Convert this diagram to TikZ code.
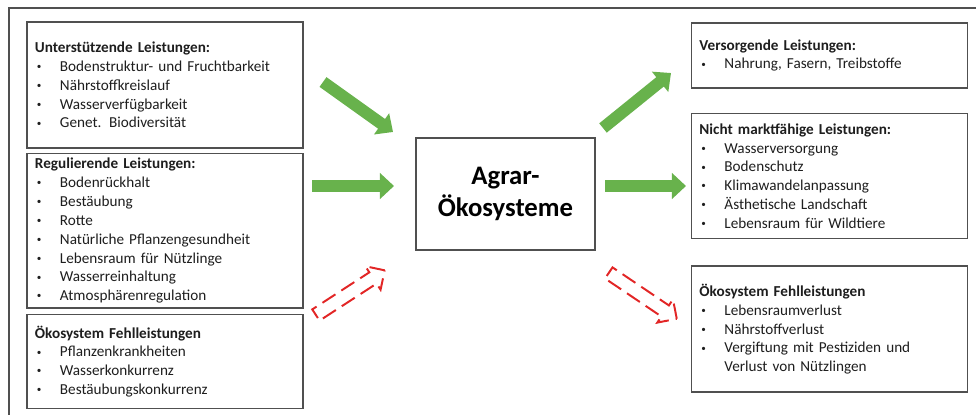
\documentclass[tikz,border=0pt]{standalone}
\usepackage{fontspec}
\usepackage{graphicx}
\setmainfont{Carlito}
\usetikzlibrary{arrows.meta,shapes.arrows,positioning}

\definecolor{pfeilgruen}{RGB}{104,178,76}
\definecolor{pfeilrot}{RGB}{226,38,38}
\definecolor{rahmen}{RGB}{80,80,80}
\definecolor{schrift}{RGB}{30,30,30}

% ein Listenpunkt
\newcommand{\pkt}[1]{\\\hspace*{0.05cm}\makebox[0.575cm][l]{\raisebox{0.25ex}{\scalebox{0.6}{\textbullet}}}#1}

\begin{document}
\begin{tikzpicture}[x=0.025cm,y=-0.025cm,
  leistung/.style={
  % The shape:
  rectangle,
  minimum width=6.9cm,
  text width=6.5cm,
  inner xsep=0.2cm,
  align=left,
  % The border:
  draw=rahmen,
  line width=1.1pt,
  fill=white,
  % Font
  text=schrift,
  font=\fontsize{10.8}{13.4}\selectfont
  },
  zentrum/.style={
  rectangle,
  minimum width=4.475cm,
  minimum height=2.8cm,
  align=center,
  draw=rahmen,
  line width=1.1pt,
  font=\fontsize{19}{23}\selectfont\bfseries
  },
  gpfeil/.style={
  % breiter gruener Pfeil
  draw=pfeilgruen,
  line width=8.5pt,
  -{Triangle[width=18pt,length=10pt]}
  },
  rpfeil/.style={
  % hohler gestrichelter Pfeil
  single arrow,
  draw=pfeilrot,
  line width=1.4pt,
  dash pattern=on 11pt off 5pt,
  minimum height=2.05cm,
  minimum width=0.7cm,
  inner xsep=0pt,
  inner ysep=0.14cm,
  single arrow head extend=0.18cm
  }]
  \useasboundingbox (0,0) rectangle (976,415);
  \draw[rahmen,line width=0.9pt] (9,415) |- (976,8);

  % links
  \node (unterst) [leistung,minimum height=3.15cm] at (165,85)
    {\textbf{Unterstützende Leistungen:}
     \pkt{Bodenstruktur- und Fruchtbarkeit}
     \pkt{Nährstoffkreislauf}
     \pkt{Wasserverfügbarkeit}
     \pkt{Genet. Biodiversität}};
  \node (regul) [leistung,minimum height=3.8cm,below=0.1cm of unterst]
    {\textbf{Regulierende Leistungen:}
     \pkt{Bodenrückhalt}
     \pkt{Bestäubung}
     \pkt{Rotte}
     \pkt{Natürliche Pflanzengesundheit}
     \pkt{Lebensraum für Nützlinge}
     \pkt{Wasserreinhaltung}
     \pkt{Atmosphärenregulation}};
  \node (fehlL) [leistung,minimum height=2.35cm,below=0.12cm of regul]
    {\textbf{Ökosystem Fehlleistungen}
     \pkt{Pflanzenkrankheiten}
     \pkt{Wasserkonkurrenz}
     \pkt{Bestäubungskonkurrenz}};

  % Mitte
  \node (agrar) [zentrum] at (505.5,194) {Agrar-\\Ökosysteme};

  % rechts
  \node (versorg) [leistung,minimum width=6.875cm,minimum height=1.625cm] at (829.5,55.5)
    {\textbf{Versorgende Leistungen:}
     \pkt{Nahrung, Fasern, Treibstoffe}};
  \node (nichtm) [leistung,minimum width=6.875cm,minimum height=3.125cm,below=0.6cm of versorg]
    {\textbf{Nicht marktfähige Leistungen:}
     \pkt{Wasserversorgung}
     \pkt{Bodenschutz}
     \pkt{Klimawandelanpassung}
     \pkt{Ästhetische Landschaft}
     \pkt{Lebensraum für Wildtiere}};
  \node (fehlR) [leistung,minimum width=6.875cm,minimum height=3.15cm,below=0.65cm of nichtm]
    {\textbf{Ökosystem Fehlleistungen}
     \pkt{Lebensraumverlust}
     \pkt{Nährstoffverlust}
     \pkt{Vergiftung mit Pestiziden und}\\
     \hspace*{0.625cm}Verlust von Nützlingen};

  % Pfeile
  \coordinate (g1a) at (323,82);
  \coordinate (g1b) at (393,132);
  \coordinate (g2a) at (312,186);
  \coordinate (g2b) at (394,186);
  \coordinate (g3a) at (603,128);
  \coordinate (g3b) at (671,73);
  \coordinate (g4a) at (605,186);
  \coordinate (g4b) at (686,186);
  \draw[gpfeil] (g1a) to (g1b);
  \draw[gpfeil] (g2a) to (g2b);
  \draw[gpfeil] (g3a) to (g3b);
  \draw[gpfeil] (g4a) to (g4b);

  \node (rL) [rpfeil,rotate=33] at (347.5,294.5) {};
  \node (rR) [rpfeil,rotate=-34] at (640,294) {};
\end{tikzpicture}
\end{document}
